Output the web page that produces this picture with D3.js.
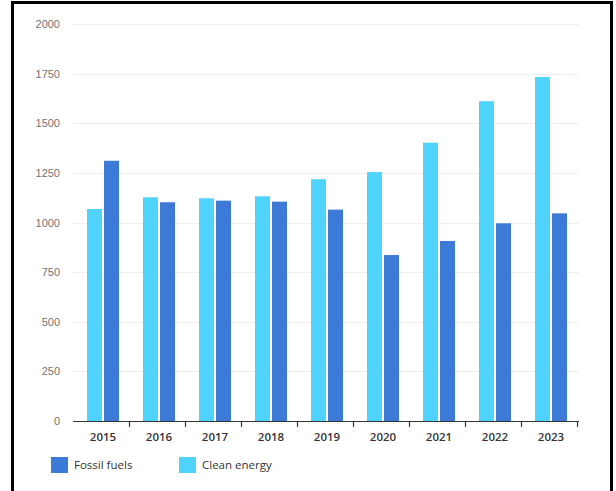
<!DOCTYPE html>
<html>
<head>
<meta charset="utf-8">
<script src="https://cdn.jsdelivr.net/npm/d3@7"></script>
<style>
  html, body { margin: 0; padding: 0; background: #fff; }
  svg { display: block; }
</style>
</head>
<body>
<svg id="chart" width="616" height="491"></svg>
<script>
// Annual investment by energy type
const years = ["2015", "2016", "2017", "2018", "2019", "2020", "2021", "2022", "2023"];
const cleanEnergy = [1068, 1127, 1122, 1132, 1218, 1254, 1402, 1611, 1733];
const fossilFuels = [1311, 1102, 1110, 1105, 1065, 836, 907, 996, 1046];
const yTicks = [0, 250, 500, 750, 1000, 1250, 1500, 1750, 2000];
const seriesNames = ["Clean energy", "Fossil fuels"];
const legendNames = ["Fossil fuels", "Clean energy"];

const colors = { "Clean energy": "#4fd3fb", "Fossil fuels": "#3d79d6" };

const svg = d3.select("#chart");

// Outer frame
svg.append("rect")
  .attr("x", 12.5).attr("y", 2.5)
  .attr("width", 599).attr("height", 500)
  .attr("fill", "none").attr("stroke", "#000").attr("stroke-width", 3);

const plotLeft = 75, plotRight = 579, plotTop = 24, plotBottom = 421;

const x = d3.scaleBand().domain(years).range([plotLeft, plotRight]).paddingInner(0).paddingOuter(0);
const xInner = d3.scaleBand().domain(seriesNames).range([12, x.bandwidth() - 12]).paddingInner(0.12);
const y = d3.scaleLinear().domain([0, 2000]).range([plotBottom, plotTop]);

// Gridlines
svg.append("g")
  .selectAll("line")
  .data(yTicks.filter(d => d > 0))
  .join("line")
  .attr("x1", 73).attr("x2", plotRight)
  .attr("y1", d => Math.round(y(d)) + 0.5).attr("y2", d => Math.round(y(d)) + 0.5)
  .attr("stroke", "#eeeeee").attr("stroke-width", 1);

// Y axis labels
const yAxis = d3.axisLeft(y).tickValues(yTicks).tickSize(0).tickPadding(0).tickFormat(d3.format("d"));
const gy = svg.append("g").attr("transform", "translate(60,0)").call(yAxis);
gy.select(".domain").remove();
gy.selectAll("text")
  .attr("fill", "#747474").attr("font-family", "Liberation Sans, Arial, sans-serif").attr("font-size", 11);

// Bars
const rows = years.map((yr, i) => ({ year: yr, values: [
  { key: "Clean energy", value: cleanEnergy[i] },
  { key: "Fossil fuels", value: fossilFuels[i] }
]}));

svg.append("g")
  .selectAll("g")
  .data(rows)
  .join("g")
  .attr("transform", d => `translate(${x(d.year)},0)`)
  .selectAll("rect")
  .data(d => d.values)
  .join("rect")
  .attr("x", d => xInner(d.key))
  .attr("width", xInner.bandwidth())
  .attr("y", d => y(d.value))
  .attr("height", d => y(0) - y(d.value))
  .attr("fill", d => colors[d.key]);

// X axis
const xAxis = d3.axisBottom(x).tickSize(0).tickPadding(12);
const gx = svg.append("g").attr("transform", `translate(0,${plotBottom})`).call(xAxis);
gx.select(".domain").attr("d", `M73,0.5H${plotRight}`).attr("stroke", "#333").attr("stroke-width", 1.2);
gx.selectAll("text")
  .attr("fill", "#333").attr("font-family", "Open Sans, sans-serif").attr("font-size", 11.5).attr("font-weight", 600);

// Boundary ticks between categories
gx.append("g")
  .selectAll("line")
  .data(years.slice(1).map(d => x(d)).concat([plotRight]))
  .join("line")
  .attr("x1", d => d - 1.5).attr("x2", d => d - 1.5)
  .attr("y1", 0).attr("y2", 6)
  .attr("stroke", "#333").attr("stroke-width", 1.2);

// Legend
const legend = svg.append("g").attr("transform", "translate(51,457)");
const item = legend.selectAll("g")
  .data(legendNames)
  .join("g")
  .attr("transform", (d, i) => `translate(${i * 128},0)`);
item.append("rect")
  .attr("width", 17).attr("height", 16)
  .attr("fill", d => colors[d]);
item.append("text")
  .attr("x", 23).attr("y", 12)
  .attr("fill", "#333")
  .attr("font-family", "Open Sans, sans-serif").attr("font-size", 11.5)
  .text(d => d);
</script>
</body>
</html>
